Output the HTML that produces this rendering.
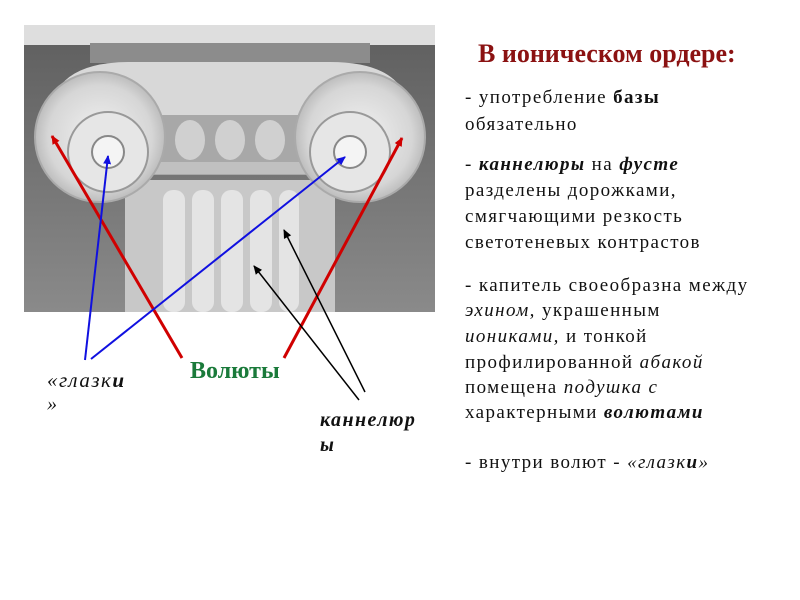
<!DOCTYPE html>
<html><head><meta charset="utf-8"><style>
body{margin:0;width:800px;height:600px;background:#fff;overflow:hidden;position:relative;font-family:"Liberation Serif",serif;}
.t{position:absolute;white-space:nowrap;font-size:19px;letter-spacing:1.4px;color:#111;}
</style></head><body>
<svg width="800" height="600" style="position:absolute;left:0;top:0">
<defs>
<linearGradient id="bg" x1="0" y1="0" x2="0" y2="1"><stop offset="0" stop-color="#5e5e5e"/><stop offset="1" stop-color="#8a8a8a"/></linearGradient>
<radialGradient id="vol" cx="0.5" cy="0.5" r="0.5"><stop offset="0" stop-color="#f2f2f2"/><stop offset="0.8" stop-color="#d6d6d6"/><stop offset="1" stop-color="#bdbdbd"/></radialGradient>
<marker id="ar" markerWidth="10" markerHeight="10" refX="8" refY="5" orient="auto" markerUnits="userSpaceOnUse"><path d="M0,1 L9,5 L0,9 z" fill="#d00000"/></marker>
<marker id="ab" markerWidth="10" markerHeight="10" refX="8" refY="5" orient="auto" markerUnits="userSpaceOnUse"><path d="M0,1 L9,5 L0,9 z" fill="#1010e0"/></marker>
<marker id="ak" markerWidth="10" markerHeight="10" refX="8" refY="5" orient="auto" markerUnits="userSpaceOnUse"><path d="M0,1 L9,5 L0,9 z" fill="#000"/></marker>
</defs>
<rect x="24" y="25" width="411" height="287" fill="url(#bg)"/>
<rect x="24" y="25" width="411" height="20" fill="#dedede"/>
<rect x="125" y="180" width="210" height="132" fill="#c8c8c8"/>
<g fill="#e4e4e4">
<rect x="163" y="190" width="22" height="122" rx="10"/><rect x="192" y="190" width="22" height="122" rx="10"/>
<rect x="221" y="190" width="22" height="122" rx="10"/><rect x="250" y="190" width="22" height="122" rx="10"/>
<rect x="279" y="190" width="20" height="122" rx="10"/>
</g>
<rect x="90" y="43" width="280" height="20" fill="#8c8c8c"/>
<path d="M50,120 Q50,62 130,62 L330,62 Q410,62 410,120 L410,140 L50,140 Z" fill="#d8d8d8"/>
<rect x="150" y="115" width="160" height="60" fill="#a8a8a8"/>
<g fill="#d0d0d0"><ellipse cx="190" cy="140" rx="15" ry="20"/><ellipse cx="230" cy="140" rx="15" ry="20"/><ellipse cx="270" cy="140" rx="15" ry="20"/></g>
<rect x="150" y="162" width="160" height="12" fill="#c0c0c0"/>
<circle cx="100" cy="137" r="65" fill="url(#vol)" stroke="#aaa" stroke-width="2"/>
<circle cx="108" cy="152" r="40" fill="#e6e6e6" stroke="#999" stroke-width="2"/>
<circle cx="108" cy="152" r="16" fill="#f4f4f4" stroke="#888" stroke-width="2"/>
<circle cx="360" cy="137" r="65" fill="url(#vol)" stroke="#aaa" stroke-width="2"/>
<circle cx="350" cy="152" r="40" fill="#e6e6e6" stroke="#999" stroke-width="2"/>
<circle cx="350" cy="152" r="16" fill="#f4f4f4" stroke="#888" stroke-width="2"/>
<line x1="182" y1="358" x2="52" y2="136" stroke="#d00000" stroke-width="3" marker-end="url(#ar)"/>
<line x1="284" y1="358" x2="402" y2="138" stroke="#d00000" stroke-width="3" marker-end="url(#ar)"/>
<line x1="85" y1="360" x2="108" y2="156" stroke="#1010e0" stroke-width="2" marker-end="url(#ab)"/>
<line x1="91" y1="359" x2="345" y2="157" stroke="#1010e0" stroke-width="2" marker-end="url(#ab)"/>
<line x1="359" y1="400" x2="254" y2="266" stroke="#000" stroke-width="1.5" marker-end="url(#ak)"/>
<line x1="365" y1="392" x2="284" y2="230" stroke="#000" stroke-width="1.5" marker-end="url(#ak)"/>
</svg>
<div class="t" style="left:478px;top:39px;font-size:26px;letter-spacing:0;font-weight:bold;color:#8b1212">В ионическом ордере:</div>
<div class="t" style="left:465px;top:87px">- употребление <b>базы</b></div>
<div class="t" style="left:465px;top:114px">обязательно</div>
<div class="t" style="left:465px;top:154px">- <b><i>каннелюры</i></b> на <b><i>фусте</i></b></div>
<div class="t" style="left:465px;top:180px">разделены дорожками,</div>
<div class="t" style="left:465px;top:206px">смягчающими резкость</div>
<div class="t" style="left:465px;top:232px">светотеневых контрастов</div>
<div class="t" style="left:465px;top:275px">- капитель своеобразна между</div>
<div class="t" style="left:465px;top:300px"><i>эхином,</i> украшенным</div>
<div class="t" style="left:465px;top:326px"><i>иониками,</i> и тонкой</div>
<div class="t" style="left:465px;top:352px">профилированной <i>абакой</i></div>
<div class="t" style="left:465px;top:377px">помещена <i>подушка с</i></div>
<div class="t" style="left:465px;top:402px">характерными <b><i>волютами</i></b></div>
<div class="t" style="left:465px;top:452px">- внутри волют - <i>«глазк<b>и</b>»</i></div>
<div class="t" style="left:47px;top:368px;font-size:21px;letter-spacing:1.5px"><i>«глазк<b>и</b></i></div>
<div class="t" style="left:47px;top:393px;font-size:20px"><i>»</i></div>
<div class="t" style="left:190px;top:358px;font-size:24px;letter-spacing:0;font-weight:bold;color:#1a7a3a">Волюты</div>
<div class="t" style="left:320px;top:409px;font-size:20px"><b><i>каннелюр</i></b></div>
<div class="t" style="left:320px;top:434px;font-size:20px"><b><i>ы</i></b></div>
</body></html>
